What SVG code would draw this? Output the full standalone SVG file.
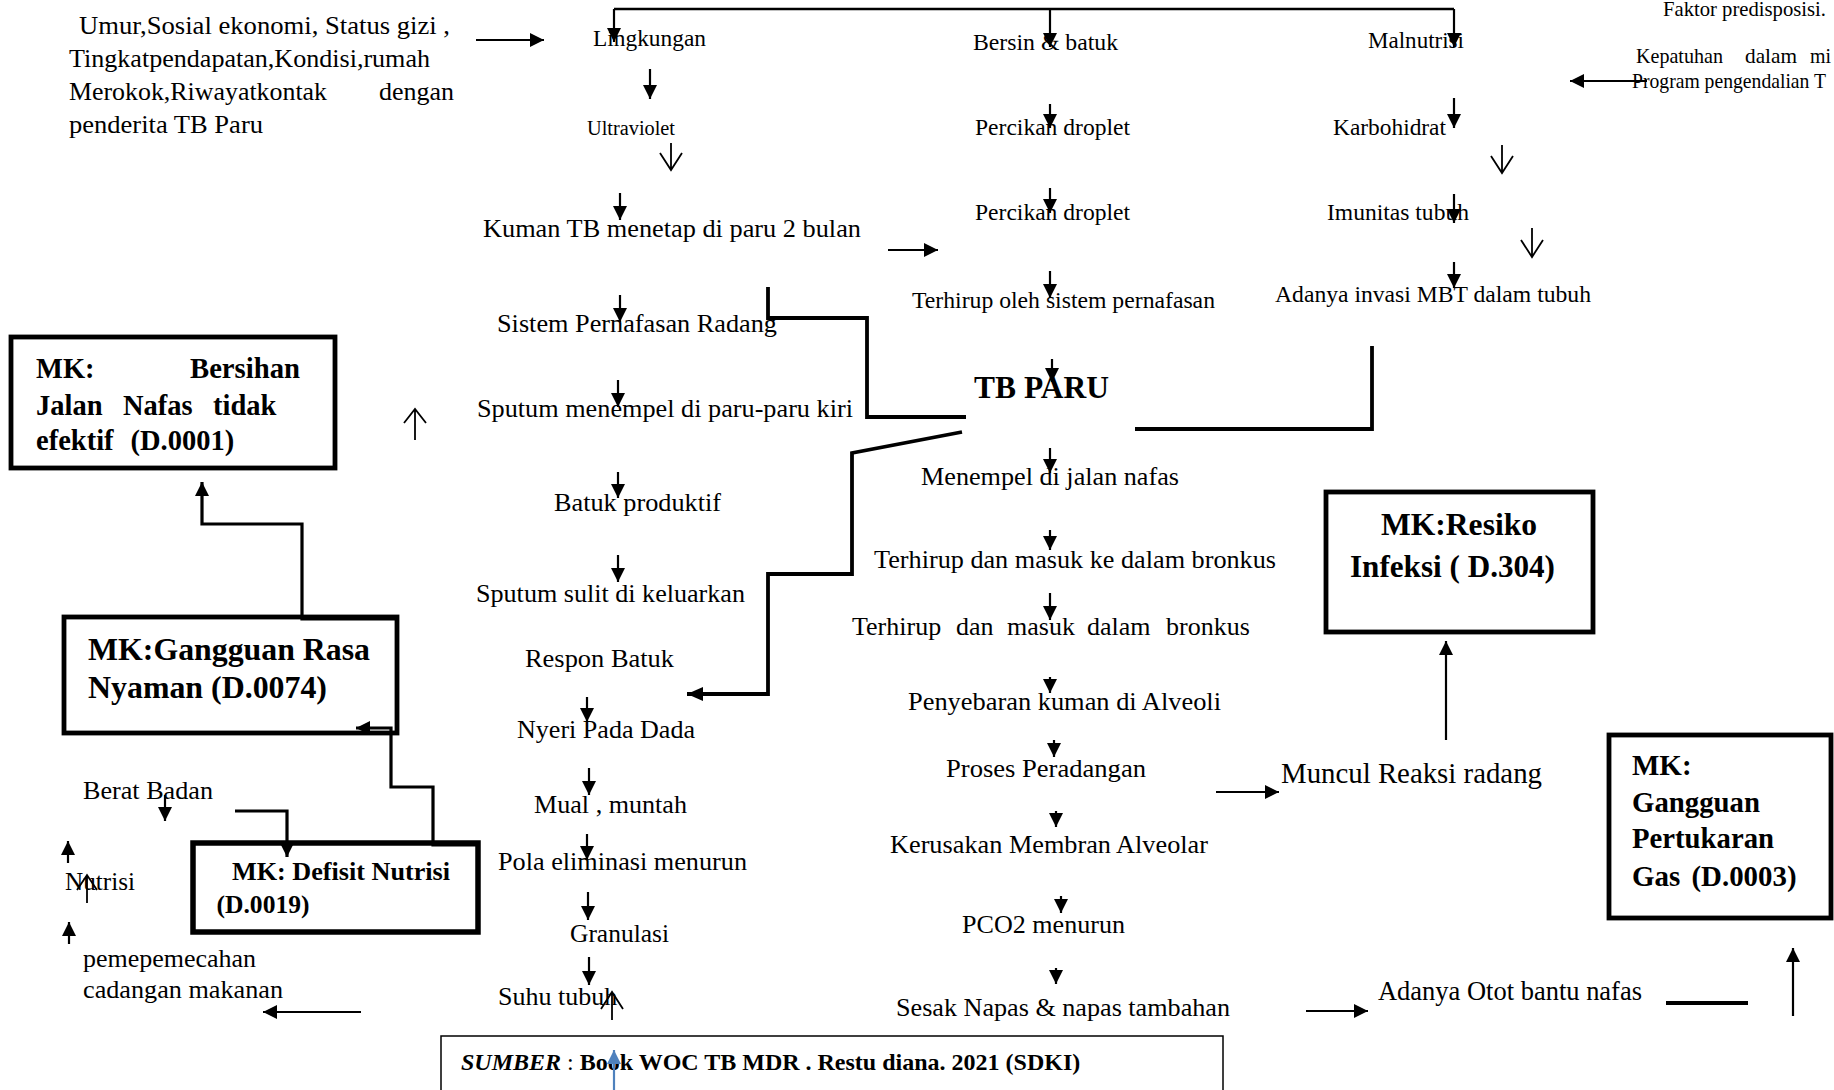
<svg xmlns="http://www.w3.org/2000/svg" width="1834" height="1090" viewBox="0 0 1834 1090">
<style>
.t{font-family:"Liberation Serif","Times New Roman",serif;fill:#000}
.b{font-weight:bold}
.s26{font-size:26px}
.s23{font-size:23.5px}
.box{fill:#fff;stroke:#000;stroke-width:4.8}
.ln{stroke:#000;stroke-width:2.2;fill:none}
.thick{stroke:#000;stroke-width:3.8;fill:none}
.open{stroke:#000;stroke-width:1.8;fill:none}
</style>
<defs>
<marker id="ah" viewBox="0 0 14 14" refX="14" refY="7" markerWidth="14" markerHeight="14" orient="auto" markerUnits="userSpaceOnUse"><path d="M0,0L14,7L0,14z" fill="#000"/></marker>
<marker id="ahl" viewBox="0 0 16 14" refX="16" refY="7" markerWidth="16" markerHeight="14" orient="auto" markerUnits="userSpaceOnUse"><path d="M0,0L16,7L0,14z" fill="#000"/></marker>
<marker id="ahb" viewBox="0 0 14 14" refX="14" refY="7" markerWidth="14" markerHeight="14" orient="auto" markerUnits="userSpaceOnUse"><path d="M0,0L14,7L0,14z" fill="#4F81BD"/></marker>
</defs>
<rect width="1834" height="1090" fill="#fff"/>

<g id="n-faktor-risiko" class="t s26">
<text x="79" y="34" textLength="371" lengthAdjust="spacingAndGlyphs">Umur,Sosial ekonomi, Status gizi ,</text>
<text x="69" y="67" textLength="361" lengthAdjust="spacingAndGlyphs">Tingkatpendapatan,Kondisi,rumah</text>
<text x="69" y="100" textLength="258" lengthAdjust="spacingAndGlyphs">Merokok,Riwayatkontak</text>
<text x="379" y="100" textLength="75" lengthAdjust="spacingAndGlyphs">dengan</text>
<text x="69" y="133" textLength="194" lengthAdjust="spacingAndGlyphs">penderita TB Paru</text>
</g>

<g id="n-faktor-predisposisi" class="t" style="font-size:21.5px">
<text x="1663" y="16" textLength="163" lengthAdjust="spacingAndGlyphs">Faktor predisposisi.</text>
<text x="1636" y="63" textLength="87" lengthAdjust="spacingAndGlyphs">Kepatuhan</text>
<text x="1745" y="63" textLength="52" lengthAdjust="spacingAndGlyphs">dalam</text>
<text x="1810" y="63" textLength="21" lengthAdjust="spacingAndGlyphs">mi</text>
<text x="1632" y="88" textLength="194" lengthAdjust="spacingAndGlyphs">Program pengendalian T</text>
</g>

<g id="n-lingkungan" class="t s23"><text x="593" y="46" textLength="113" lengthAdjust="spacingAndGlyphs">Lingkungan</text></g>
<g id="n-ultraviolet" class="t" style="font-size:20px"><text x="587" y="135" textLength="88" lengthAdjust="spacingAndGlyphs">Ultraviolet</text></g>
<g id="n-kuman" class="t s26"><text x="483" y="237" textLength="378" lengthAdjust="spacingAndGlyphs">Kuman TB menetap di paru 2 bulan</text></g>
<g id="n-sistem" class="t s26"><text x="497" y="332" textLength="280" lengthAdjust="spacingAndGlyphs">Sistem Pernafasan Radang</text></g>
<g id="n-sputum-menempel" class="t s26"><text x="477" y="417" textLength="376" lengthAdjust="spacingAndGlyphs">Sputum menempel di paru-paru kiri</text></g>
<g id="n-batuk-produktif" class="t s26"><text x="554" y="511" textLength="167" lengthAdjust="spacingAndGlyphs">Batuk produktif</text></g>
<g id="n-sputum-sulit" class="t s26"><text x="476" y="602" textLength="269" lengthAdjust="spacingAndGlyphs">Sputum sulit di keluarkan</text></g>
<g id="n-respon-batuk" class="t s26"><text x="525" y="667" textLength="149" lengthAdjust="spacingAndGlyphs">Respon Batuk</text></g>
<g id="n-nyeri" class="t s26"><text x="517" y="738" textLength="178" lengthAdjust="spacingAndGlyphs">Nyeri Pada Dada</text></g>
<g id="n-mual" class="t s26"><text x="534" y="813" textLength="153" lengthAdjust="spacingAndGlyphs">Mual , muntah</text></g>
<g id="n-pola" class="t s26"><text x="498" y="870" textLength="249" lengthAdjust="spacingAndGlyphs">Pola eliminasi menurun</text></g>
<g id="n-granulasi" class="t s26"><text x="570" y="942" textLength="99" lengthAdjust="spacingAndGlyphs">Granulasi</text></g>
<g id="n-suhu" class="t s26"><text x="498" y="1005">Suhu tubuh</text></g>

<g id="n-bersin" class="t s23"><text x="973" y="50" textLength="145" lengthAdjust="spacingAndGlyphs">Bersin &amp; batuk</text></g>
<g id="n-percikan1" class="t s23"><text x="975" y="135" textLength="155" lengthAdjust="spacingAndGlyphs">Percikan droplet</text></g>
<g id="n-percikan2" class="t s23"><text x="975" y="220" textLength="155" lengthAdjust="spacingAndGlyphs">Percikan droplet</text></g>
<g id="n-terhirup-oleh" class="t s23"><text x="912" y="308" textLength="303" lengthAdjust="spacingAndGlyphs">Terhirup oleh sistem pernafasan</text></g>
<g id="n-tb-paru" class="t b" style="font-size:31px"><text x="974" y="398" textLength="135" lengthAdjust="spacingAndGlyphs">TB PARU</text></g>
<g id="n-menempel" class="t s26"><text x="921" y="485" textLength="258" lengthAdjust="spacingAndGlyphs">Menempel di jalan nafas</text></g>
<g id="n-terhirup-ke" class="t s26"><text x="874" y="568" textLength="402" lengthAdjust="spacingAndGlyphs">Terhirup dan masuk ke dalam bronkus</text></g>
<g id="n-terhirup-dalam" class="t s26">
<text x="852" y="635">Terhirup</text><text x="956" y="635">dan</text><text x="1007" y="635">masuk</text><text x="1087" y="635">dalam</text><text x="1166" y="635">bronkus</text>
</g>
<g id="n-penyebaran" class="t s26"><text x="908" y="710" textLength="313" lengthAdjust="spacingAndGlyphs">Penyebaran kuman di Alveoli</text></g>
<g id="n-proses" class="t s26"><text x="946" y="777" textLength="200" lengthAdjust="spacingAndGlyphs">Proses Peradangan</text></g>
<g id="n-kerusakan" class="t s26"><text x="890" y="853" textLength="318" lengthAdjust="spacingAndGlyphs">Kerusakan Membran Alveolar</text></g>
<g id="n-pco2" class="t s26"><text x="962" y="933" textLength="163" lengthAdjust="spacingAndGlyphs">PCO2 menurun</text></g>
<g id="n-sesak" class="t s26"><text x="896" y="1016" textLength="334" lengthAdjust="spacingAndGlyphs">Sesak Napas &amp; napas tambahan</text></g>

<g id="n-malnutrisi" class="t s23"><text x="1368" y="48" textLength="96" lengthAdjust="spacingAndGlyphs">Malnutrisi</text></g>
<g id="n-karbohidrat" class="t s23"><text x="1333" y="135" textLength="113" lengthAdjust="spacingAndGlyphs">Karbohidrat</text></g>
<g id="n-imunitas" class="t s23"><text x="1327" y="220" textLength="142" lengthAdjust="spacingAndGlyphs">Imunitas tubuh</text></g>
<g id="n-invasi" class="t s23"><text x="1275" y="302" textLength="316" lengthAdjust="spacingAndGlyphs">Adanya invasi MBT dalam tubuh</text></g>
<g id="n-muncul" class="t" style="font-size:28.5px"><text x="1281" y="783" textLength="261" lengthAdjust="spacingAndGlyphs">Muncul Reaksi radang</text></g>
<g id="n-otot" class="t" style="font-size:26.5px"><text x="1378" y="1000" textLength="264" lengthAdjust="spacingAndGlyphs">Adanya Otot bantu nafas</text></g>

<g id="n-berat" class="t s26"><text x="83" y="799" textLength="130" lengthAdjust="spacingAndGlyphs">Berat Badan</text></g>
<g id="n-nutrisi" class="t s26"><text x="65" y="890" textLength="70" lengthAdjust="spacingAndGlyphs">Nutrisi</text></g>
<g id="n-pemecahan" class="t s26">
<text x="83" y="967" textLength="173" lengthAdjust="spacingAndGlyphs">pemepemecahan</text>
<text x="83" y="998" textLength="200" lengthAdjust="spacingAndGlyphs">cadangan makanan</text>
</g>

<g id="n-mk-bersihan">
<rect class="box" x="11" y="337" width="324" height="131"/>
<g class="t b" style="font-size:28.5px">
<text x="36" y="378">MK:</text>
<text x="190" y="378" textLength="110" lengthAdjust="spacingAndGlyphs">Bersihan</text>
<text x="36" y="415">Jalan</text><text x="123" y="415">Nafas</text><text x="213" y="415">tidak</text>
<text x="36" y="450">efektif</text><text x="130.5" y="450">(D.0001)</text>
</g>
</g>

<g id="n-mk-rasa-nyaman">
<rect class="box" x="64" y="617" width="333" height="116"/>
<g class="t b" style="font-size:31px">
<text x="88" y="660" textLength="282" lengthAdjust="spacingAndGlyphs">MK:Gangguan Rasa</text>
<text x="88" y="698" textLength="239" lengthAdjust="spacingAndGlyphs">Nyaman (D.0074)</text>
</g>
</g>

<g id="n-mk-defisit">
<rect class="box" x="193" y="843" width="285" height="89" style="stroke-width:5.5"/>
<g class="t b" style="font-size:25px">
<text x="232" y="880" textLength="218" lengthAdjust="spacingAndGlyphs">MK: Defisit Nutrisi</text>
<text x="216.5" y="913" textLength="93" lengthAdjust="spacingAndGlyphs">(D.0019)</text>
</g>
</g>

<g id="n-mk-resiko">
<rect class="box" x="1326" y="492" width="267" height="140"/>
<g class="t b" style="font-size:31.5px">
<text x="1381" y="535" textLength="156" lengthAdjust="spacingAndGlyphs">MK:Resiko</text>
<text x="1350" y="577" textLength="205" lengthAdjust="spacingAndGlyphs">Infeksi ( D.304)</text>
</g>
</g>

<g id="n-mk-pertukaran">
<rect class="box" x="1609" y="735" width="222" height="183"/>
<g class="t b" style="font-size:29px">
<text x="1632" y="775">MK:</text>
<text x="1632" y="812" textLength="128" lengthAdjust="spacingAndGlyphs">Gangguan</text>
<text x="1632" y="848" textLength="142" lengthAdjust="spacingAndGlyphs">Pertukaran</text>
<text x="1632" y="886">Gas</text><text x="1691.5" y="886" textLength="105" lengthAdjust="spacingAndGlyphs">(D.0003)</text>
</g>
</g>

<g id="n-sumber">
<rect x="441" y="1036" width="782" height="70" fill="#fff" stroke="#000" stroke-width="1.5"/>
<text class="t" x="461" y="1070" style="font-size:24px"><tspan font-weight="bold" font-style="italic">SUMBER</tspan> : <tspan font-weight="bold">Book WOC TB MDR . Restu diana. 2021 (SDKI)</tspan></text>
</g>

<g id="connectors">
<path class="ln" d="M614,9 H1454" style="stroke-width:2.5"/>
<path class="ln" d="M614,9 V42" marker-end="url(#ah)"/>
<path class="ln" d="M1050,9 V47" marker-end="url(#ah)"/>
<path class="ln" d="M1454,9 V47" marker-end="url(#ah)"/>
<path class="ln" d="M476,40 H544" marker-end="url(#ah)"/>
<path class="ln" d="M1647,81 H1570" marker-end="url(#ah)"/>

<path class="ln" d="M650,69 V99" marker-end="url(#ah)"/>
<path class="open" d="M671,143 V170 M660,153 L671,170 L682,153"/>
<path class="ln" d="M620,193 V220" marker-end="url(#ah)"/>
<path class="ln" d="M888,250 H938" marker-end="url(#ah)"/>
<path class="ln" d="M620,295 V322" marker-end="url(#ah)"/>
<path class="ln" d="M618,380 V407" marker-end="url(#ah)"/>
<path class="ln" d="M618,472 V498" marker-end="url(#ah)"/>
<path class="ln" d="M618,555 V582" marker-end="url(#ah)"/>
<path class="ln" d="M587,697 V722" marker-end="url(#ah)"/>
<path class="ln" d="M589,768 V795" marker-end="url(#ah)"/>
<path class="ln" d="M587,834 V860" marker-end="url(#ah)"/>
<path class="ln" d="M588,892 V920" marker-end="url(#ah)"/>
<path class="ln" d="M589,957 V985" marker-end="url(#ah)"/>
<path class="open" d="M612,1020 V992 M601,1009 L612,992 L623,1009"/>

<path class="ln" d="M1050,104 V128" marker-end="url(#ah)"/>
<path class="ln" d="M1050,188 V213" marker-end="url(#ah)"/>
<path class="ln" d="M1050,271 V298" marker-end="url(#ah)"/>
<path class="ln" d="M1052,359 V382" marker-end="url(#ah)"/>
<path class="ln" d="M1050,448 V473" marker-end="url(#ah)"/>
<path class="ln" d="M1050,530 V550" marker-end="url(#ah)"/>
<path class="ln" d="M1050,593 V620" marker-end="url(#ah)"/>
<path class="ln" d="M1050,677 V693" marker-end="url(#ah)"/>
<path class="ln" d="M1054,740 V757" marker-end="url(#ah)"/>
<path class="ln" d="M1056,811 V827" marker-end="url(#ah)"/>
<path class="ln" d="M1061,896 V913" marker-end="url(#ah)"/>
<path class="ln" d="M1056,968 V984" marker-end="url(#ah)"/>

<path class="ln" d="M1454,98 V128" marker-end="url(#ah)"/>
<path class="open" d="M1502,145 V173 M1491,156 L1502,173 L1513,156"/>
<path class="ln" d="M1454,194 V223" marker-end="url(#ah)"/>
<path class="open" d="M1532,228 V257 M1521,240 L1532,257 L1543,240"/>
<path class="ln" d="M1454,262 V288" marker-end="url(#ah)"/>

<path class="thick" d="M768,287 V318 H867 V417 H966"/>
<path class="thick" d="M962,432 L852,453 V574 H768 V694 H687" marker-end="url(#ahl)"/>
<path class="thick" d="M1135,429 H1372 V346"/>

<path class="ln" d="M1216,792 H1279" marker-end="url(#ah)"/>
<path class="ln" d="M1446,740 V641" marker-end="url(#ah)"/>
<path class="ln" d="M1306,1011 H1368" marker-end="url(#ah)"/>
<path class="thick" d="M1666,1003 H1748"/>
<path class="ln" d="M1793,1016 V948" marker-end="url(#ah)"/>

<path class="thick" d="M397,619 H302 V524 H202 V482" style="stroke-width:3.2" marker-end="url(#ah)"/>
<path class="open" d="M415,440 V409 M404,423 L415,409 L426,423"/>
<path class="thick" d="M478,845 H433 V787 H391 V728 H356" style="stroke-width:3.2" marker-end="url(#ah)"/>
<path class="thick" d="M235,811 H287 V857" style="stroke-width:3.2" marker-end="url(#ah)"/>
<path class="ln" d="M165,795 V821" marker-end="url(#ah)"/>
<path class="ln" d="M68,863 V841" marker-end="url(#ah)"/>
<path class="open" d="M87,903 V875 M77,890 L87,875 L97,890"/>
<path class="ln" d="M69,944 V922" marker-end="url(#ah)"/>
<path class="ln" d="M361,1012 H263" marker-end="url(#ah)"/>
<path d="M614,1090 V1050" stroke="#4F81BD" stroke-width="2.2" fill="none" marker-end="url(#ahb)"/>
</g>
</svg>
